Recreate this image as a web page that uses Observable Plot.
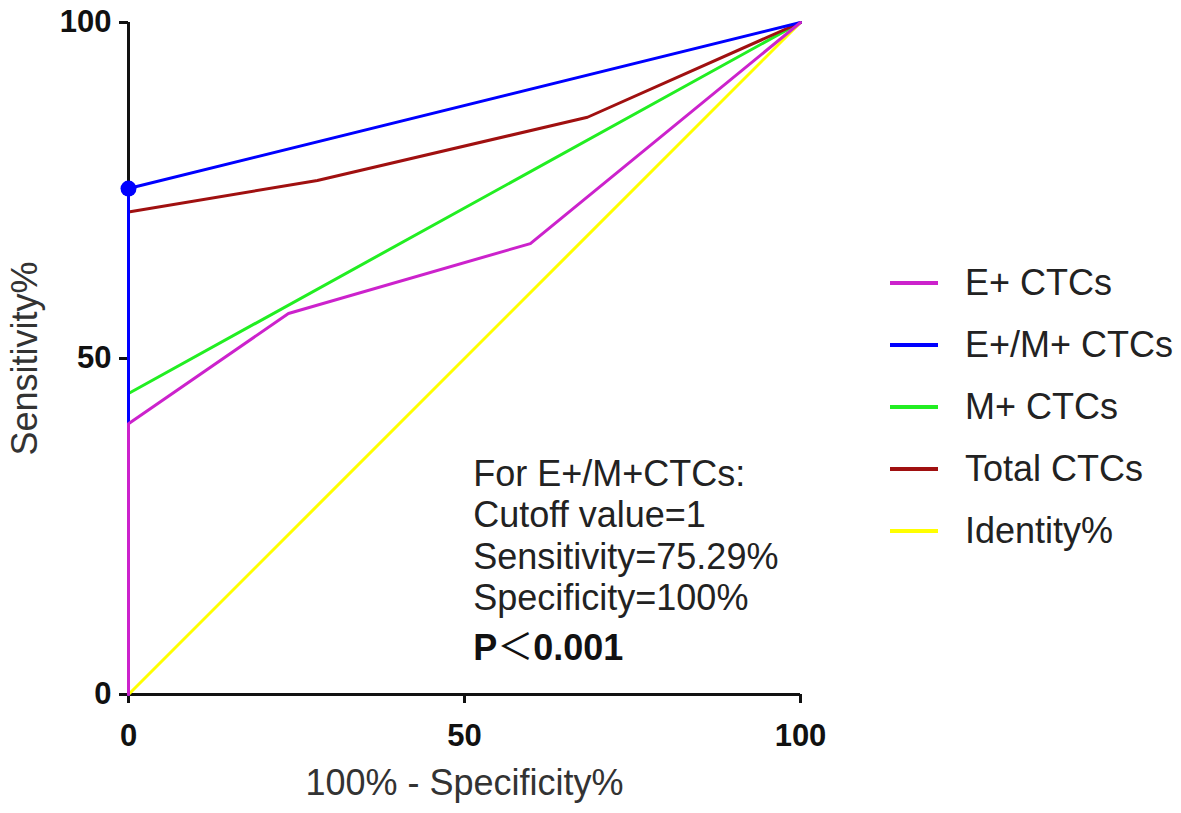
<!DOCTYPE html>
<html>
<head>
<meta charset="utf-8">
<script src="https://cdn.jsdelivr.net/npm/d3@7"></script>
<script src="https://cdn.jsdelivr.net/npm/@observablehq/plot@0.6"></script>
<style>
  body { margin: 0; background: #fff; font-family: "Liberation Sans", Arial, sans-serif; }
  #wrap { position: relative; width: 1181px; height: 813px; }
  #legend { position: absolute; left: 890px; top: 252px; }
  .item { display: flex; align-items: center; height: 62px; font-size: 36px; color: #222; }
  .swatch { width: 48px; height: 4px; margin-right: 27px; }
</style>
</head>
<body>
<div id="wrap"><div id="legend"></div></div>
<script>
// ROC curves: 100% - specificity (x) vs sensitivity (y)
const series = ["E+ CTCs", "E+/M+ CTCs", "M+ CTCs", "Total CTCs", "Identity%"];
const colors = ["#cc22cc", "#0000ff", "#22ee22", "#a01010", "#ffff00"];

const eFpr = [0, 0, 23.8, 59.8, 100];
const eSens = [0, 40.3, 56.7, 67.1, 100];
const emFpr = [0, 0, 100];
const emSens = [0, 75.29, 100];
const mFpr = [0, 0, 100];
const mSens = [0, 44.8, 100];
const totFpr = [0, 0, 28.1, 68.3, 100];
const totSens = [0, 71.8, 76.5, 85.9, 100];
const idFpr = [0, 100];
const idSens = [0, 100];

const cutoff = {fpr: 0, sens: 75.29};
const ticks = [0, 50, 100];

const note = ["For E+/M+CTCs:", "Cutoff value=1", "Sensitivity=75.29%", "Specificity=100%"];
const pNote = "P＜0.001";

const pts = (xs, ys, s) => xs.map((x, i) => ({x, y: ys[i], s}));
// drawing order: identity, M+, Total, E+/M+, E+
const layers = [
  pts(idFpr, idSens, "Identity%"),
  pts(mFpr, mSens, "M+ CTCs"),
  pts(totFpr, totSens, "Total CTCs"),
  pts(emFpr, emSens, "E+/M+ CTCs"),
  pts(eFpr, eSens, "E+ CTCs")
];
const colorOf = s => colors[series.indexOf(s)];

const font = '"Liberation Sans", Arial, sans-serif';

const chart = Plot.plot({
  width: 1181,
  height: 813,
  marginLeft: 128,
  marginRight: 381,
  marginTop: 22,
  marginBottom: 119,
  style: {fontFamily: font, background: "#fff", color: "#111"},
  x: {domain: [0, 100]},
  y: {domain: [0, 100]},
  marks: [
    Plot.ruleY([0], {stroke: "#111", strokeWidth: 3}),
    Plot.ruleX([0], {stroke: "#111", strokeWidth: 3}),
    Plot.axisX({ticks, tickSize: 9, tickPadding: 20, strokeWidth: 3, fontSize: 31, fontWeight: "bold", label: null}),
    Plot.axisY({ticks, tickSize: 9, tickPadding: 8, strokeWidth: 3, fontSize: 31, fontWeight: "bold", label: null}),
    ...layers.map(d => Plot.line(d, {x: "x", y: "y", stroke: colorOf(d[0].s), strokeWidth: 3})),
    Plot.dot([cutoff], {x: "fpr", y: "sens", r: 8, fill: colorOf("E+/M+ CTCs")}),
    Plot.text([note.join("\n")], {x: 51.3, y: 35.4, text: d => d, textAnchor: "start", lineAnchor: "top",
      lineHeight: 1.147, fontSize: 36, fill: "#222"}),
    Plot.text([pNote], {x: 51.3, y: 8.9, text: d => d, textAnchor: "start", lineAnchor: "top",
      fontSize: 36, fontWeight: "bold", fill: "#111"}),
    Plot.text(["100% - Specificity%"], {frameAnchor: "bottom", dy: 89, lineAnchor: "middle", textAnchor: "middle",
      text: d => d, fontSize: 36, fill: "#333"}),
    Plot.text(["Sensitivity%"], {frameAnchor: "left", dx: -103, rotate: -90, lineAnchor: "middle", textAnchor: "middle",
      text: d => d, fontSize: 36, fill: "#333"})
  ]
});

// the "<" in the p-value is a thin full-width sign in the original
for (const t of chart.querySelectorAll("text")) {
  if (t.textContent === pNote) {
    t.innerHTML = `<tspan>P</tspan><tspan font-weight="normal" font-family="Noto Sans CJK SC">＜</tspan><tspan>0.001</tspan>`;
  }
}

document.getElementById("wrap").prepend(chart);

const legend = document.getElementById("legend");
series.forEach((s, i) => {
  const row = document.createElement("div");
  row.className = "item";
  row.innerHTML = `<span class="swatch" style="background:${colors[i]}"></span><span>${s}</span>`;
  legend.append(row);
});
</script>
</body>
</html>
